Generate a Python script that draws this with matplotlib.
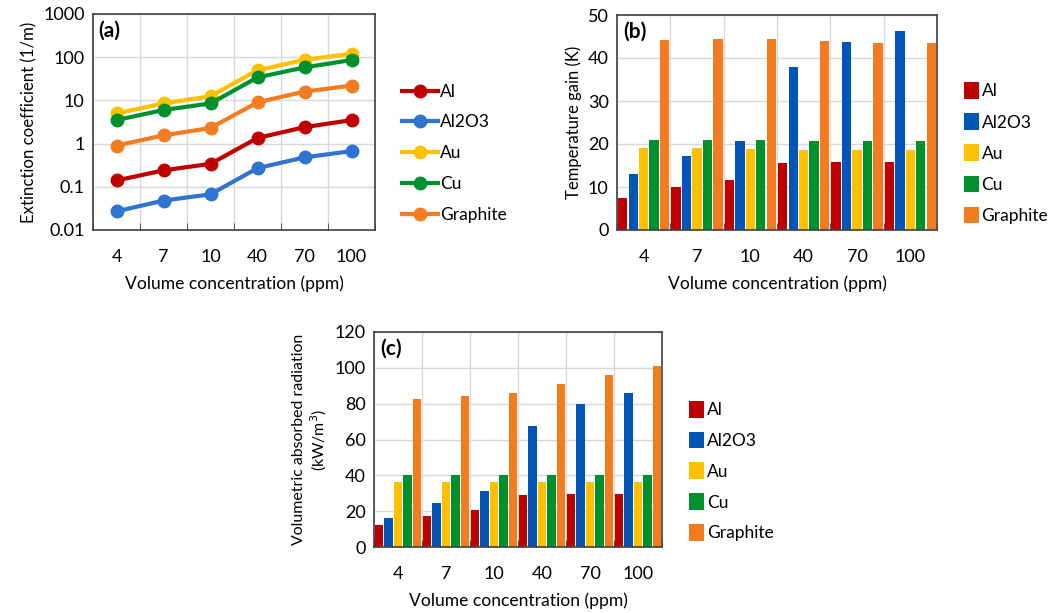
import numpy as np
import matplotlib
matplotlib.use('Agg')
import matplotlib.pyplot as plt

plt.rcParams['font.family'] = ['Lato', 'DejaVu Sans']
plt.rcParams['font.size'] = 13

concentrations = ['4', '7', '10', '40', '70', '100']
materials = ['Al', 'Al2O3', 'Au', 'Cu', 'Graphite']
colors = ['#C00000', '#0055B8', '#FFC000', '#00912E', '#F47B20']
line_colors = ['#C00000', '#2E74D0', '#FFC000', '#00912E', '#F47B20']

# (a) extinction coefficient (1/m)
ext_al = [0.14, 0.24, 0.34, 1.35, 2.4, 3.5]
ext_al2o3 = [0.027, 0.048, 0.067, 0.27, 0.48, 0.67]
ext_au = [5.0, 8.5, 12.5, 50, 87, 120]
ext_cu = [3.5, 6.0, 8.5, 34, 58, 86]
ext_graphite = [0.9, 1.55, 2.3, 9.0, 16, 22]

# (b) temperature gain (K)
temp_al = [7.5, 10.0, 11.6, 15.5, 15.7, 15.7]
temp_al2o3 = [13.1, 17.3, 20.7, 38.0, 43.8, 46.3]
temp_au = [19.0, 19.0, 18.8, 18.6, 18.6, 18.6]
temp_cu = [21.0, 21.0, 21.0, 20.6, 20.6, 20.6]
temp_graphite = [44.1, 44.4, 44.4, 44.0, 43.6, 43.6]

# (c) volumetric absorbed radiation (kW/m3)
rad_al = [12.5, 17.5, 20.5, 29.0, 29.5, 29.5]
rad_al2o3 = [16.0, 24.5, 31.5, 67.5, 80.0, 86.0]
rad_au = [36.5, 36.5, 36.5, 36.5, 36.5, 36.5]
rad_cu = [40.0, 40.0, 40.0, 40.0, 40.0, 40.0]
rad_graphite = [82.5, 84.5, 86.0, 91.0, 96.0, 101.0]

W, H = 1049, 613
fig = plt.figure(figsize=(W / 100, H / 100), dpi=100)


def add_ax(x0, y0, x1, y1):
    return fig.add_axes([x0 / W, 1 - y1 / H, (x1 - x0) / W, (y1 - y0) / H])


def style_ax(ax, n):
    ax.set_xlim(-0.5, n - 0.5)
    ax.set_xticks(np.arange(n))
    ax.set_xticklabels(concentrations)
    ax.set_xticks(np.arange(n + 1) - 0.5, minor=True)
    ax.tick_params(axis='x', which='major', length=0, pad=14)
    ax.tick_params(axis='x', which='minor', direction='in', length=5, color='#404040')
    ax.tick_params(axis='y', length=0, pad=6)
    ax.grid(True, which='minor', axis='x', color='#D9D9D9', linewidth=1)
    ax.grid(True, which='major', axis='y', color='#D9D9D9', linewidth=1)
    ax.set_axisbelow(True)
    for s in ax.spines.values():
        s.set_color('#404040')
        s.set_linewidth(1.2)
    ax.set_xlabel('Volume concentration (ppm)', fontsize=12.6, labelpad=7)


x = np.arange(len(concentrations))
leg_font = 12.5

# panel (a)
ax = add_ax(93, 14, 375, 230)
for vals, name, c in zip([ext_al, ext_al2o3, ext_au, ext_cu, ext_graphite], materials, line_colors):
    ax.plot(x, vals, color=c, linewidth=3, marker='o', markersize=9, label=name)
ax.set_yscale('log')
ax.set_ylim(0.01, 1000)
ax.set_yticks([0.01, 0.1, 1, 10, 100, 1000])
ax.set_yticklabels(['0.01', '0.1', '1', '10', '100', '1000'])
ax.minorticks_off()
style_ax(ax, len(x))
ax.set_ylabel('Extinction coefficient (1/m)', fontsize=12.1)
ax.text(0.02, 0.97, '(a)', transform=ax.transAxes, fontweight='bold', fontsize=15, va='top')
ax.legend(loc='center left', bbox_to_anchor=(1.07, 0.356), frameon=False, handlelength=2.1,
          handletextpad=0.1, labelspacing=0.85, borderaxespad=0, fontsize=leg_font)


def bar_panel(ax, series, ymax, step):
    nb = len(series)
    w = 0.98 / nb
    for i, (vals, name, c) in enumerate(zip(series, materials, colors)):
        ax.bar(x - 0.49 + w * (i + 0.5), vals, width=w * 0.9, color=c, label=name)
    ax.set_ylim(0, ymax)
    ax.set_yticks(np.arange(0, ymax + 1, step))
    style_ax(ax, len(x))


# panel (b)
ax = add_ax(617, 15, 937, 230)
bar_panel(ax, [temp_al, temp_al2o3, temp_au, temp_cu, temp_graphite], 50, 10)
ax.set_ylabel('Temperature gain (K)', fontsize=12)
ax.text(0.02, 0.97, '(b)', transform=ax.transAxes, fontweight='bold', fontsize=15, va='top')
ax.legend(loc='center left', bbox_to_anchor=(1.062, 0.358), frameon=False, handlelength=0.85,
          handleheight=1.1, handletextpad=0.17, labelspacing=0.8, borderaxespad=0, fontsize=leg_font)

# panel (c)
ax = add_ax(374, 332, 662, 547)
bar_panel(ax, [rad_al, rad_al2o3, rad_au, rad_cu, rad_graphite], 120, 20)
ax.set_ylabel('Volumetric absorbed radiation\n(kW/m$^3$)', fontsize=11.4)
ax.text(0.02, 0.97, '(c)', transform=ax.transAxes, fontweight='bold', fontsize=15, va='top')
ax.legend(loc='center left', bbox_to_anchor=(1.07, 0.353), frameon=False, handlelength=0.85,
          handleheight=1.1, handletextpad=0.17, labelspacing=0.78, borderaxespad=0, fontsize=leg_font)

fig.savefig('out.png', dpi=100)
